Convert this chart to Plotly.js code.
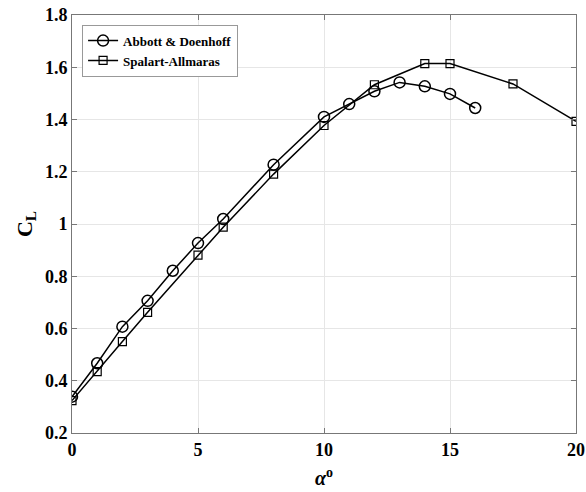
<!DOCTYPE html>
<html><head><meta charset="utf-8">
<script src="https://cdn.plot.ly/plotly-3.0.1.min.js"></script>
<style>body{margin:0;background:#fff}#chart{width:586px;height:492px}</style>
</head><body><div id="chart"></div>
<script>
const abbottAlpha = [0,1,2,3,4,5,6,8,10,11,12,13,14,15,16];
const abbottCL = [0.339,0.467,0.607,0.706,0.821,0.927,1.019,1.227,1.41,1.459,1.508,1.542,1.527,1.498,1.444];
const saAlpha = [0,1,2,3,5,6,8,10,12,14,15,17.5,20];
const saCL = [0.324,0.435,0.55,0.662,0.881,0.988,1.191,1.377,1.533,1.614,1.614,1.536,1.393];
const xTicks = [0,5,10,15,20];
const yTicks = [0.2,0.4,0.6,0.8,1.0,1.2,1.4,1.6,1.8];
const yTickText = ['0.2','0.4','0.6','0.8','1','1.2','1.4','1.6','1.8'];

const font = {family:'"Liberation Serif", "Times New Roman", serif', color:'#000'};
const traces = [
  {x:abbottAlpha, y:abbottCL, name:'<b>Abbott &amp; Doenhoff</b>', mode:'lines+markers',
   line:{color:'#000', width:1.5},
   marker:{symbol:'circle-open', size:11, color:'#000', line:{width:1.5, color:'#000'}}},
  {x:saAlpha, y:saCL, name:'<b>Spalart-Allmaras</b>', mode:'lines+markers',
   line:{color:'#000', width:1.5},
   marker:{symbol:'square-open', size:8, color:'#000', line:{width:1.2, color:'#000'}}}
];
const layout = {
  width:586, height:492,
  margin:{l:72, r:10, t:15, b:59},
  paper_bgcolor:'#fff', plot_bgcolor:'#fff',
  font:Object.assign({size:18}, font),
  showlegend:true,
  legend:{x:0.02, y:0.977, xanchor:'left', yanchor:'top', bgcolor:'#fff',
    bordercolor:'#999', borderwidth:1, font:Object.assign({size:13}, font),
    tracegroupgap:0, itemwidth:30},
  xaxis:{range:[0,20], tickvals:xTicks, ticktext:xTicks.map(v=>'<b>'+v+'</b>'),
    showgrid:true, gridcolor:'#e6e6e6', gridwidth:1, zeroline:false,
    showline:true, linecolor:'#777', linewidth:1, mirror:'ticks',
    ticks:'inside', ticklen:5, tickcolor:'#777',
    tickfont:Object.assign({size:18}, font),
    title:{text:'<b><i>α</i><sup>o</sup></b>', font:Object.assign({size:20}, font), standoff:12}},
  yaxis:{range:[0.2,1.8], tickvals:yTicks, ticktext:yTickText.map(t=>'<b>'+t+'</b>'),
    showgrid:true, gridcolor:'#e6e6e6', gridwidth:1, zeroline:false,
    showline:true, linecolor:'#777', linewidth:1, mirror:'ticks',
    ticks:'inside', ticklen:5, tickcolor:'#777',
    tickfont:Object.assign({size:18}, font),
    title:{text:'<b>C<sub>L</sub></b>', font:Object.assign({size:22}, font), standoff:6}}
};
Plotly.newPlot('chart', traces, layout, {displayModeBar:false, staticPlot:true});
</script></body></html>
